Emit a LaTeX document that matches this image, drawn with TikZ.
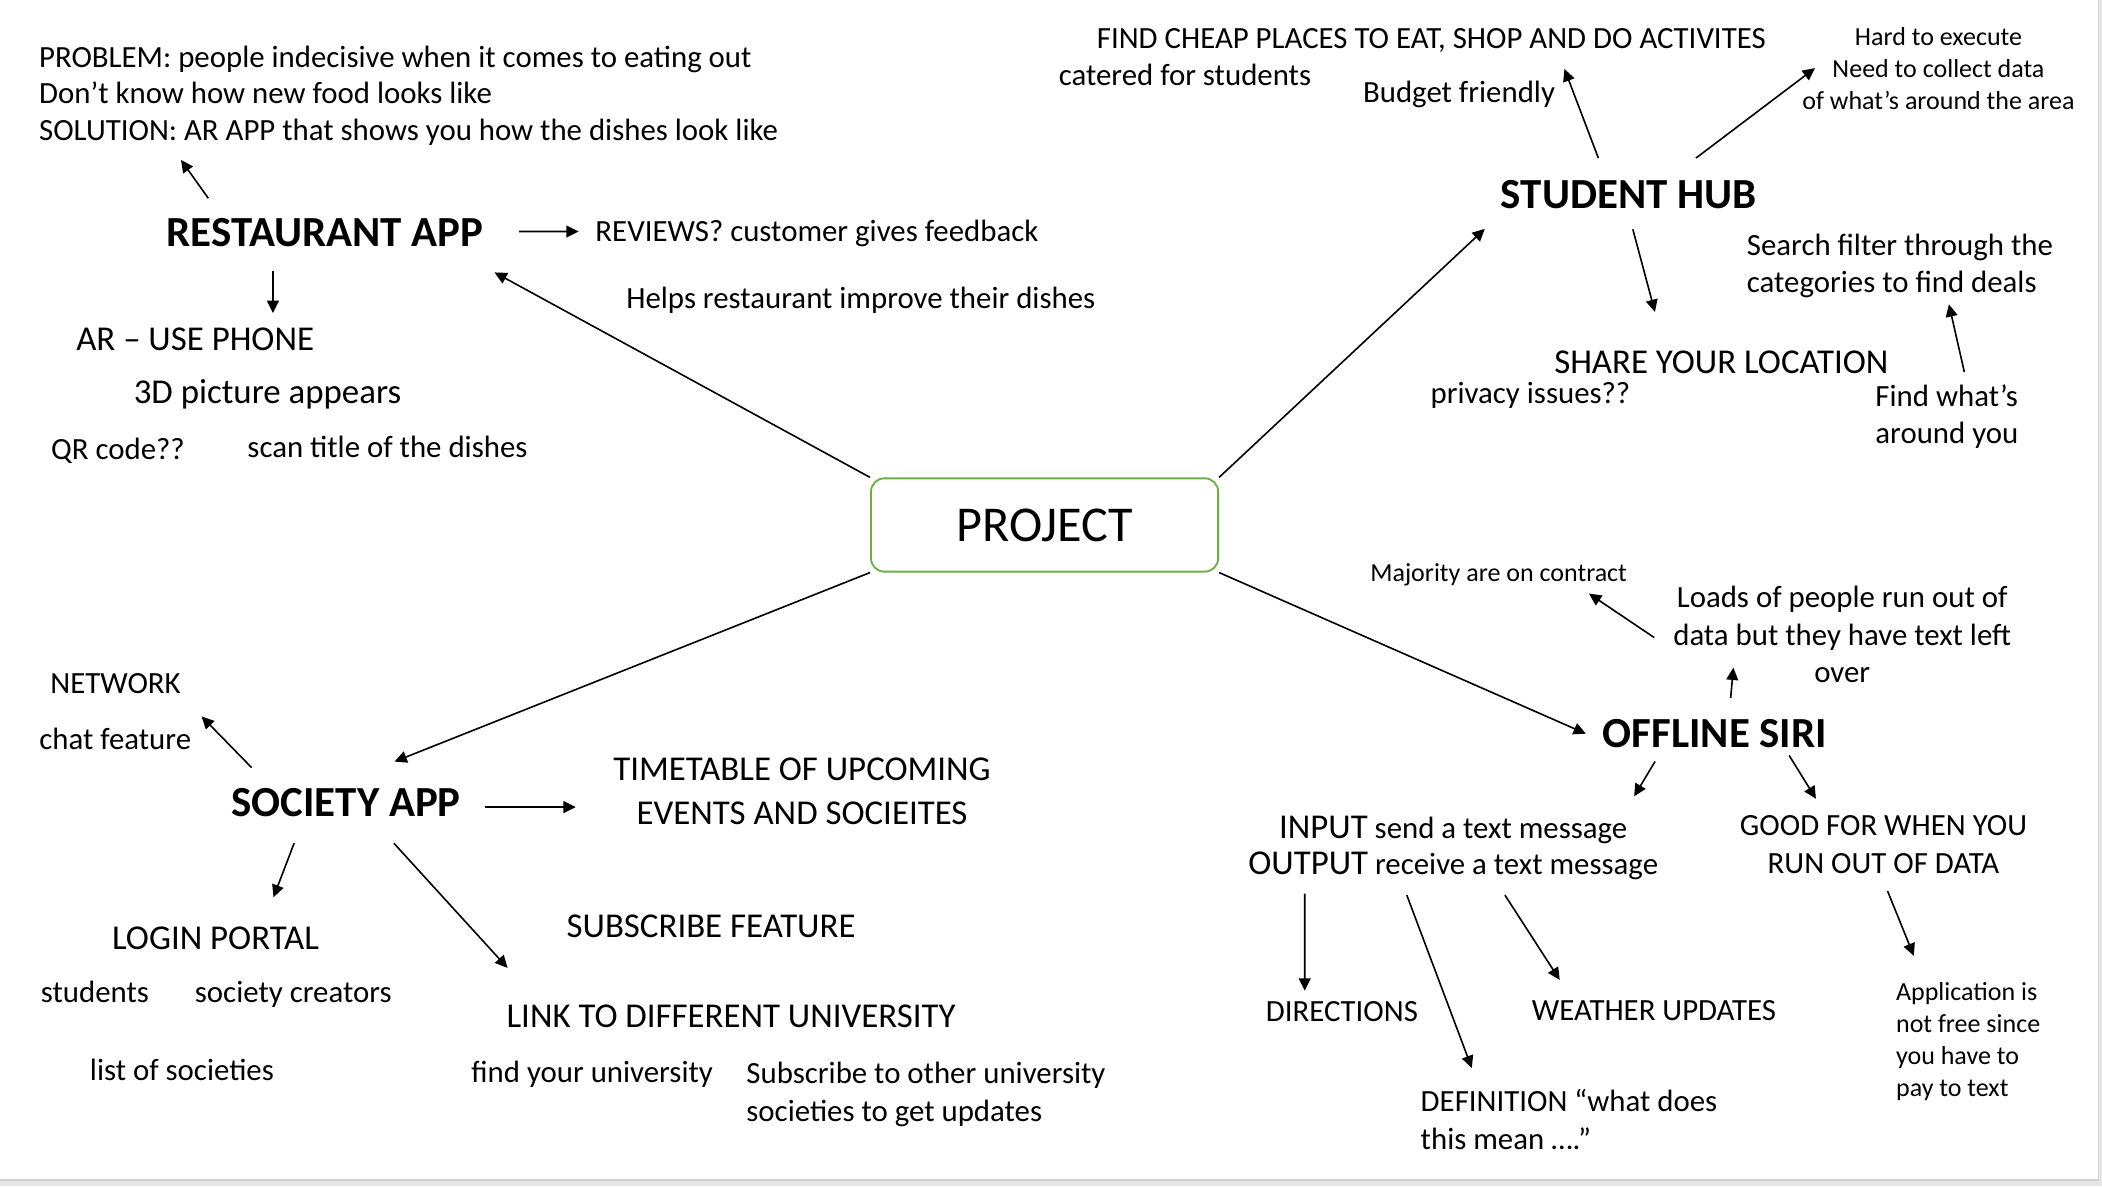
\documentclass[tikz,border=0pt]{standalone}
\usepackage{fontspec}
\setmainfont{Carlito}
\usetikzlibrary{arrows.meta}
\definecolor{projgreen}{HTML}{70AD47}
\definecolor{framegray}{HTML}{E6E6E6}
\definecolor{edgegray}{HTML}{D2D2D2}
\tikzset{
    idea map/.style={
            x=0.5pt,y=-0.5pt,
            every node/.style={inner sep=0pt,anchor=base west,font=\fontsize{11.5}{13.9}\selectfont},
            arrow/.style={-{Triangle[length=4.6pt,width=4.4pt]},line width=0.6pt},
            topic/.style={font=\bfseries\fontsize{16}{19}\selectfont},
            big/.style={font=\fontsize{13}{16.4}\selectfont},
            note/.style={font=\fontsize{9.7}{12}\selectfont},
            project box/.style={draw=projgreen,line width=0.7pt,rounded corners=5pt,anchor=center,
                    minimum width=129.5pt,minimum height=34.8pt,font=\fontsize{18.7}{22}\selectfont}
        }
    }
\newcommand{\bigword}[1]{{\fontsize{13}{13.4}\selectfont #1}}

\begin{document}
\begin{tikzpicture}[idea map]
    \useasboundingbox (0,0) rectangle (1568,884.7);
    \fill [framegray] (0,0) rectangle (1568,884.7);
    \filldraw [fill=white,draw=edgegray,line width=0.4pt] (-2,-2) rectangle (1565.7,880.2);

    % centre
    \node [project box] (project) at (779.2,391.6) {PROJECT};

    % restaurant app (multi-line nodes sit on their last line)
    \node [topic] (resapp) at (124,184.1) {RESTAURANT APP};
    \node [align=left,font=\fontsize{11.5}{13.75}\selectfont] (problem) at (28.8,105)
        {PROBLEM: people indecisive when it comes to eating out\\Don’t know how new food looks like\\SOLUTION: AR APP that shows you how the dishes look like};
    \node (reviews) at (443.8,179.8) {REVIEWS? customer gives feedback};
    \node (helps) at (466.8,229.8) {Helps restaurant improve their dishes};
    \node [big] (arphone) at (56.5,261.2) {AR – USE PHONE};
    \node [big] (picture) at (99.4,301.1) {3D picture appears};
    \node (qrcode) at (37.7,342.5) {QR code??};
    \node (scantitle) at (184.2,341.1) {scan title of the dishes};

    % student hub
    \node [topic] (studhub) at (1119.2,155.6) {STUDENT HUB};
    \node (findcheap) at (817.8,36.5) {FIND CHEAP PLACES TO EAT, SHOP AND DO ACTIVITES};
    \node (catered) at (789.4,63.4) {catered for students};
    \node (budget) at (1016.4,76.5) {Budget friendly};
    \node [note,align=center,anchor=base] (hardexec) at (1446,81.9)
        {Hard to execute\\Need to collect data\\of what’s around the area};
    \node [align=left,font=\fontsize{11.5}{13.85}\selectfont] (search) at (1302.7,218.4)
        {Search filter through the\\categories to find deals};
    \node [big] (share) at (1159,278.3) {SHARE YOUR LOCATION};
    \node (privacy) at (1066.8,301.1) {privacy issues??};
    \node [align=left,font=\fontsize{11.5}{14}\selectfont] (findwhat) at (1398.6,331.1)
        {Find what’s\\around you};

    % offline siri
    \node [topic] (offsiri) at (1195.2,557.4) {OFFLINE SIRI};
    \node [note] (majority) at (1021.8,433.6) {Majority are on contract};
    \node [align=center,anchor=base,font=\fontsize{11.5}{13.85}\selectfont] (loads) at (1374.2,508.9)
        {Loads of people run out of\\data but they have text left\\over};
    \node [align=center,anchor=base,font=\fontsize{11.5}{13.4}\selectfont] (inout) at (1084,652.4)
        {\bigword{INPUT} send a text message\\\bigword{OUTPUT} receive a text message};
    \node [align=center,anchor=base,font=\fontsize{11.5}{14.1}\selectfont] (goodfor) at (1405,651.7)
        {GOOD FOR WHEN YOU\\RUN OUT OF DATA};
    \node (directions) at (943.9,762.3) {DIRECTIONS};
    \node (weather) at (1142.3,761.5) {WEATHER UPDATES};
    \node [align=left,font=\fontsize{11.5}{13.85}\selectfont] (definition) at (1059.4,857.1)
        {DEFINITION “what does\\this mean ….”};
    \node [note,align=left,font=\fontsize{9.7}{11.95}\selectfont] (application) at (1414,817.7)
        {Application is\\not free since\\you have to\\pay to text};

    % society app
    \node [topic] (socapp) at (172.3,609.2) {SOCIETY APP};
    \node (network) at (37.2,517.4) {NETWORK};
    \node (chat) at (29,559.2) {chat feature};
    \node [big,align=center,anchor=base] (timetable) at (598.3,615.2)
        {TIMETABLE OF UPCOMING\\EVENTS AND SOCIEITES};
    \node [big] (login) at (83.2,708) {LOGIN PORTAL};
    \node (students) at (30.1,747.6) {students};
    \node (creators) at (145,747.6) {society creators};
    \node (societies) at (66.7,805.8) {list of societies};
    \node [big] (subscribe) at (422.3,699.1) {SUBSCRIBE FEATURE};
    \node [big] (link) at (377.5,766.1) {LINK TO DIFFERENT UNIVERSITY};
    \node (findyour) at (351.2,807.3) {find your university};
    \node [align=left,font=\fontsize{11.5}{14.15}\selectfont] (subother) at (556.4,836.2)
        {Subscribe to other university\\societies to get updates};

    % connectors
    \draw [arrow] (project.north west) -- ([shift={(244.9,19.1)}]resapp.base west);
    \draw [arrow] (project.north east) -- ([shift={(-11.6,15.1)}]studhub.base west);
    \draw [arrow] (project.south east) -- ([shift={(-12.2,-10.1)}]offsiri.base west);
    \draw [arrow] (project.south west) -- ([shift={(122,-41.1)}]socapp.base west);

    \draw [arrow] ([shift={(31.4,-36.2)}]resapp.base west) -- ([shift={(106.2,14.3)}]problem.base west);
    \draw [arrow] ([shift={(263.2,-11.4)}]resapp.base west) -- ([shift={(-12.1,-7.1)}]reviews.base west);
    \draw [arrow] ([shift={(79.6,18)}]resapp.base west) -- ([shift={(147.1,-27.7)}]arphone.base west);

    \draw [arrow] ([shift={(73.1,-37.7)}]studhub.base west) -- ([shift={(349.2,14.9)}]findcheap.base west);
    \draw [arrow] ([shift={(145.9,-37.7)}]studhub.base west) -- ([shift={(-92.1,-31.1)}]hardexec.base);
    \draw [arrow] ([shift={(98.8,15.4)}]studhub.base west) -- ([shift={(75.5,-45.6)}]share.base west);
    \draw [arrow] ([shift={(66.7,-53.6)}]findwhat.base west) -- ([shift={(151.1,8.6)}]search.base west);

    \draw [arrow] ([shift={(95.8,-36.8)}]offsiri.base west) -- ([shift={(-81.2,-10.9)}]loads.base);
    \draw [arrow] ([shift={(-140.2,-33.3)}]loads.base) -- ([shift={(163.5,9.2)}]majority.base west);
    \draw [arrow] ([shift={(39.4,10.6)}]offsiri.base west) -- ([shift={(135,-58.4)}]inout.base);
    \draw [arrow] ([shift={(139.4,6.1)}]offsiri.base west) -- ([shift={(-50.4,-55.9)}]goodfor.base);
    \draw [arrow] ([shift={(3,12.9)}]goodfor.base) -- ([shift={(13.6,-104.7)}]application.base west);
    \draw [arrow] ([shift={(-110.7,14.1)}]inout.base) -- ([shift={(29.4,-23.3)}]directions.base west);
    \draw [arrow] ([shift={(-34.6,15.3)}]inout.base) -- ([shift={(38.5,-60.4)}]definition.base west);
    \draw [arrow] ([shift={(38.6,15.3)}]inout.base) -- ([shift={(21.2,-30.5)}]weather.base west);

    \draw [arrow] ([shift={(15.4,-36.6)}]socapp.base west) -- ([shift={(121.4,-24.8)}]chat.base west);
    \draw [arrow] ([shift={(189.7,-7.2)}]socapp.base west) -- ([shift={(-168.8,-13.2)}]timetable.base);
    \draw [arrow] ([shift={(47.1,19.8)}]socapp.base west) -- ([shift={(120.8,-38.7)}]login.base west);
    \draw [arrow] ([shift={(121.5,19.8)}]socapp.base west) -- ([shift={(1.1,-44.1)}]link.base west);
\end{tikzpicture}
\end{document}
